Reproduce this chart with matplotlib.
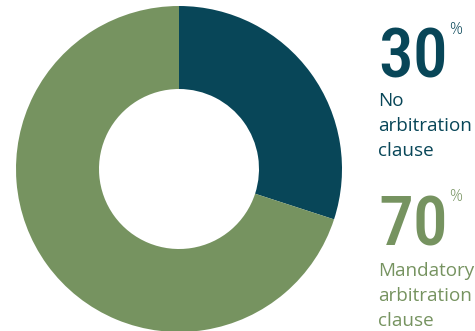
import matplotlib
matplotlib.use("Agg")
import matplotlib.pyplot as plt
from matplotlib import font_manager as fm

# share of contracts
labels = ["No\narbitration\nclause", "Mandatory\narbitration\nclause"]
shares = [30, 70]
colors = ["#084658", "#769360"]


def narrow_font():
    # pick a condensed face for the big numbers if one is installed
    candidates = [("Roboto Condensed", "normal"), ("Liberation Sans Narrow", "normal"),
                  ("DejaVu Sans", "condensed"), ("Open Sans", "condensed")]
    for fam, stretch in candidates:
        try:
            path = fm.findfont(fm.FontProperties(family=fam, stretch=stretch, weight=500),
                               fallback_to_default=False)
        except ValueError:
            continue
        name = path.lower()
        if "condensed" in name or "narrow" in name:
            return fm.FontProperties(fname=path)
    return fm.FontProperties(family="DejaVu Sans")


W, H = 475, 331
fig = plt.figure(figsize=(W / 100, H / 100), dpi=100)
ax = fig.add_axes([0, 0, 1, 1])

ax.pie(shares, colors=colors, startangle=90, counterclock=False,
       center=(179, 162), radius=163,
       wedgeprops=dict(width=83, linewidth=0))
ax.set_xlim(0, W)
ax.set_ylim(0, H)
ax.set_aspect("equal")
ax.axis("off")

big = narrow_font()
big.set_size(50)
body = fm.FontProperties(family=["Open Sans", "DejaVu Sans"], size=13.6)
renderer = fig.canvas.get_renderer()

# number baseline, percent top, first label baseline (pixels from top)
blocks = [(77, 22, 106), (245, 189, 276)]
for (num_base, pct_top, lab_base), val, lab, col in zip(blocks, shares, labels, colors):
    t = ax.text(378, H - num_base, str(val), fontproperties=big, color=col, va="baseline", ha="left")
    right = t.get_window_extent(renderer).x1
    ax.text(right + 1, H - pct_top, "%", color=col, fontsize=11.5, family=["Open Sans", "DejaVu Sans"],
            va="top", ha="left", fontweight="light")
    for i, line in enumerate(lab.split("\n")):
        ax.text(378, H - lab_base - 25 * i, line, fontproperties=body, color=col,
                va="baseline", ha="left")

fig.savefig("out.png", dpi=100)
